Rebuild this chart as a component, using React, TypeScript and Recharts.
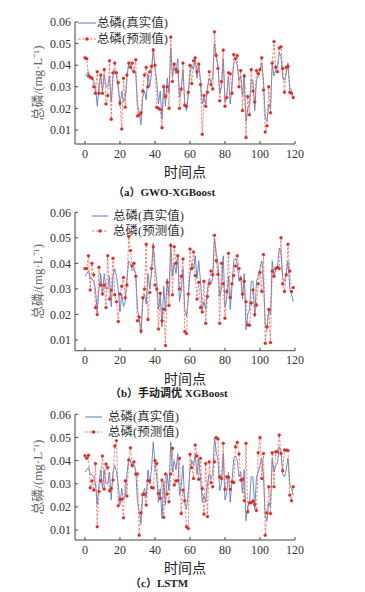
import React from 'react'
import { LineChart, Line, XAxis, YAxis, Legend } from 'recharts'

// time index 0..119
const timePoints = Array.from({ length: 120 }, (_, i) => i)

const actual = [
  0.035, 0.036, 0.037, 0.034, 0.034, 0.033, 0.030, 0.021, 0.030, 0.036,
  0.028, 0.036, 0.030, 0.030, 0.035, 0.023, 0.035, 0.038, 0.035, 0.030,
  0.021, 0.028, 0.023, 0.025, 0.034, 0.041, 0.040, 0.037, 0.038, 0.036,
  0.022, 0.018, 0.0125, 0.025, 0.028, 0.024, 0.036, 0.030, 0.036, 0.048,
  0.039, 0.033, 0.022, 0.028, 0.015, 0.031, 0.021, 0.034, 0.027, 0.048,
  0.035, 0.040, 0.036, 0.043, 0.025, 0.029, 0.038, 0.022, 0.019, 0.026,
  0.036, 0.040, 0.038, 0.043, 0.034, 0.041, 0.033, 0.022, 0.025, 0.022,
  0.030, 0.034, 0.032, 0.034, 0.050, 0.044, 0.040, 0.027, 0.030, 0.043,
  0.023, 0.026, 0.035, 0.022, 0.031, 0.041, 0.042, 0.040, 0.033, 0.035,
  0.026, 0.036, 0.014, 0.020, 0.022, 0.033, 0.033, 0.019, 0.033, 0.035,
  0.038, 0.041, 0.033, 0.016, 0.014, 0.022, 0.020, 0.041, 0.035, 0.038,
  0.039, 0.046, 0.044, 0.034, 0.033, 0.036, 0.041, 0.030, 0.028, 0.025,
]

const gwoPred = [
  0.0435, 0.043, 0.035, 0.0345, 0.034, 0.030, 0.027, 0.037, 0.027, 0.0355,
  0.027, 0.038, 0.022, 0.026, 0.042, 0.015, 0.0365, 0.041, 0.0365, 0.032,
  0.0225, 0.0105, 0.034, 0.0205, 0.0355, 0.041, 0.039, 0.041, 0.037, 0.0425,
  0.0165, 0.017, 0.018, 0.028, 0.0355, 0.039, 0.030, 0.037, 0.0395, 0.047,
  0.040, 0.0205, 0.020, 0.0195, 0.011, 0.030, 0.0255, 0.030, 0.020, 0.053,
  0.0325, 0.0405, 0.038, 0.037, 0.020, 0.029, 0.041, 0.0215, 0.021, 0.0275,
  0.040, 0.0315, 0.042, 0.0435, 0.037, 0.0405, 0.031, 0.008, 0.026, 0.021,
  0.0275, 0.037, 0.031, 0.029, 0.0555, 0.0445, 0.0385, 0.0235, 0.0325, 0.047,
  0.021, 0.025, 0.0365, 0.036, 0.027, 0.045, 0.043, 0.0445, 0.030, 0.0375,
  0.019, 0.035, 0.0065, 0.0255, 0.017, 0.038, 0.028, 0.023, 0.0375, 0.036,
  0.038, 0.0435, 0.0285, 0.009, 0.012, 0.030, 0.018, 0.041, 0.051, 0.039,
  0.037, 0.048, 0.0485, 0.0385, 0.0275, 0.039, 0.0395, 0.0275, 0.027, 0.025,
]

const manualPred = [
  0.038, 0.038, 0.043, 0.0296, 0.040, 0.0355, 0.0227, 0.020, 0.0385, 0.0315,
  0.028, 0.0315, 0.0227, 0.043, 0.026, 0.0296, 0.042, 0.0277, 0.025, 0.0172,
  0.028, 0.031, 0.0345, 0.0265, 0.0315, 0.0505, 0.045, 0.039, 0.040, 0.035,
  0.0175, 0.019, 0.0135, 0.0265, 0.030, 0.0475, 0.018, 0.0286, 0.038, 0.0465,
  0.0315, 0.030, 0.0143, 0.0283, 0.0175, 0.022, 0.0078, 0.0326, 0.0235, 0.047,
  0.0277, 0.0465, 0.040, 0.043, 0.030, 0.035, 0.0417, 0.0133, 0.0125, 0.028,
  0.0456, 0.038, 0.0445, 0.0352, 0.026, 0.0326, 0.0227, 0.021, 0.033, 0.0165,
  0.027, 0.032, 0.037, 0.0355, 0.051, 0.041, 0.0357, 0.0165, 0.040, 0.032,
  0.0185, 0.029, 0.044, 0.0266, 0.032, 0.0352, 0.039, 0.043, 0.038, 0.034,
  0.028, 0.033, 0.025, 0.016, 0.0158, 0.0245, 0.0296, 0.020, 0.0237, 0.032,
  0.0365, 0.029, 0.0435, 0.0087, 0.0152, 0.022, 0.009, 0.037, 0.035, 0.038,
  0.0385, 0.038, 0.050, 0.032, 0.029, 0.0355, 0.0475, 0.037, 0.029, 0.0305,
]

const lstmPred = [
  0.0421, 0.041, 0.0423, 0.0283, 0.0313, 0.0273, 0.0388, 0.0114, 0.0266, 0.0313,
  0.042, 0.0277, 0.0385, 0.037, 0.027, 0.028, 0.0316, 0.0463, 0.0486, 0.0205,
  0.0233, 0.0233, 0.0153, 0.0313, 0.0247, 0.0403, 0.0456, 0.038, 0.0395, 0.0342,
  0.0342, 0.0078, 0.0175, 0.0254, 0.0255, 0.0208, 0.0313, 0.0313, 0.0284, 0.0282,
  0.040, 0.0388, 0.0258, 0.0237, 0.0316, 0.0155, 0.0342, 0.0256, 0.0222, 0.0342,
  0.0453, 0.0295, 0.0313, 0.0313, 0.041, 0.0172, 0.0273, 0.0227, 0.0114, 0.0107,
  0.0427, 0.037, 0.0323, 0.0467, 0.042, 0.0319, 0.041, 0.028, 0.0169, 0.0388,
  0.0158, 0.0395, 0.0305, 0.0287, 0.0395, 0.050, 0.0493, 0.033, 0.0323, 0.0475,
  0.0276, 0.033, 0.0328, 0.0276, 0.0309, 0.0305, 0.046, 0.0479, 0.0429, 0.0316,
  0.0319, 0.0227, 0.0475, 0.0179, 0.0218, 0.0218, 0.0225, 0.0211, 0.0184, 0.0434,
  0.050, 0.0323, 0.0431, 0.0078, 0.0175, 0.0287, 0.0172, 0.0434, 0.0287, 0.0438,
  0.0438, 0.0511, 0.0431, 0.0356, 0.0446, 0.0446, 0.0444, 0.0251, 0.0227, 0.0287,
]

const xTicks = [0, 20, 40, 60, 80, 100, 120]
const yTicks = [0.01, 0.02, 0.03, 0.04, 0.05, 0.06]

const actualName = '总磷(真实值)'
const predName = '总磷(预测值)'
const yTitle = '总磷/(mg·L⁻¹)'
const xTitle = '时间点'

const data = timePoints.map((t, i) => ({
  t,
  actual: actual[i],
  gwo: gwoPred[i],
  manual: manualPred[i],
  lstm: lstmPred[i],
}))

const blue = '#5d7fb6'
const red = '#e36a63'
const dotRed = '#d6302b'
const axisColor = '#444'
const serif = '"Liberation Serif", "Times New Roman", "Noto Sans CJK SC", serif'
const cjk = '"Liberation Serif", "Noto Sans CJK SC", serif'

interface PanelProps {
  top: number
  height: number
  marginTop: number
  yMin: number
  predKey: string
  legendTop: number
  legendLeft: number
  lineLen: number
  gap: number
  rowH: number
}

function LegendBox({ lineLen, gap, rowH }: { lineLen: number; gap: number; rowH: number }) {
  const row = (pred: boolean, text: string) => (
    <div style={{ display: 'flex', alignItems: 'center', height: rowH }}>
      <svg width={lineLen} height={8} style={{ display: 'block' }}>
        {pred ? (
          <>
            <line x1={0} y1={4} x2={lineLen} y2={4} stroke={red} strokeWidth={0.9} strokeDasharray="2.5 1.5" />
            <circle cx={lineLen / 2} cy={4} r={1.8} fill={dotRed} />
          </>
        ) : (
          <line x1={0} y1={4} x2={lineLen} y2={4} stroke={blue} strokeWidth={1} />
        )}
      </svg>
      <span style={{ marginLeft: gap, fontSize: 12.5, color: '#333', fontFamily: cjk, lineHeight: '12px' }}>{text}</span>
    </div>
  )
  return (
    <div>
      {row(false, actualName)}
      {row(true, predName)}
    </div>
  )
}

function Panel(p: PanelProps) {
  const tickStyle = { fontSize: 12, fill: '#333', fontFamily: serif }
  return (
    <div style={{ position: 'absolute', left: 0, top: p.top }}>
      <LineChart
        width={365}
        height={p.height}
        data={data}
        margin={{ top: p.marginTop, right: 70, bottom: 0, left: 0 }}
      >
        <XAxis
          dataKey="t"
          type="number"
          domain={[-5.7, 120]}
          ticks={xTicks}
          allowDataOverflow
          height={36}
          tickSize={-3}
          tickMargin={8}
          stroke={axisColor}
          tick={tickStyle}
          label={{ value: xTitle, position: 'insideBottom', offset: 3, fontSize: 14, fill: '#222', fontFamily: cjk }}
        />
        <YAxis
          type="number"
          domain={[p.yMin, 0.06]}
          ticks={yTicks}
          allowDataOverflow
          width={75}
          tickSize={-3}
          tickMargin={7}
          stroke={axisColor}
          tick={tickStyle}
          tickFormatter={(v: number) => v.toFixed(2)}
          label={{ value: yTitle, angle: -90, position: 'center', dx: 0, fontSize: 13, fill: '#666', fontFamily: cjk }}
        />
        <Legend
          layout="vertical"
          align="center"
          verticalAlign="middle"
          wrapperStyle={{ position: 'absolute', top: p.legendTop, left: p.legendLeft, width: 'auto' }}
          content={() => <LegendBox lineLen={p.lineLen} gap={p.gap} rowH={p.rowH} />}
        />
        <Line
          dataKey="actual"
          name={actualName}
          stroke={blue}
          strokeWidth={0.9}
          dot={false}
          type="linear"
          isAnimationActive={false}
        />
        <Line
          dataKey={p.predKey}
          name={predName}
          stroke={red}
          strokeWidth={0.8}
          strokeDasharray="2.5 1.5"
          dot={{ r: 1.5, fill: dotRed, stroke: dotRed, strokeWidth: 0.3, strokeDasharray: '' }}
          type="linear"
          isAnimationActive={false}
        />
      </LineChart>
    </div>
  )
}

const captionStyle: React.CSSProperties = {
  position: 'absolute',
  fontSize: 11,
  fontWeight: 'bold',
  lineHeight: '14px',
  color: '#222',
  fontFamily: cjk,
  whiteSpace: 'nowrap',
}

export default function App() {
  return (
    <div style={{ position: 'absolute', left: 0, top: 0, width: 365, height: 592, background: '#fff' }}>
      <Panel top={0} height={180} marginTop={22} yMin={0.0035} predKey="gwo"
        legendTop={15} legendLeft={78} lineLen={18} gap={1} rowH={16} />
      <div style={{ ...captionStyle, top: 185, left: 113 }}>（a）GWO-XGBoost</div>

      <Panel top={190} height={196.7} marginTop={22.3} yMin={0.0058} predKey="manual"
        legendTop={18.5} legendLeft={92} lineLen={16} gap={5} rowH={15} />
      <div style={{ ...captionStyle, top: 386, left: 110 }}>（b）手动调优 XGBoost</div>

      <Panel top={392} height={184} marginTop={22.3} yMin={0.0057} predKey="lstm"
        legendTop={17.5} legendLeft={85} lineLen={17} gap={6} rowH={15} />
      <div style={{ ...captionStyle, top: 576, left: 130 }}>（c）LSTM</div>
    </div>
  )
}
